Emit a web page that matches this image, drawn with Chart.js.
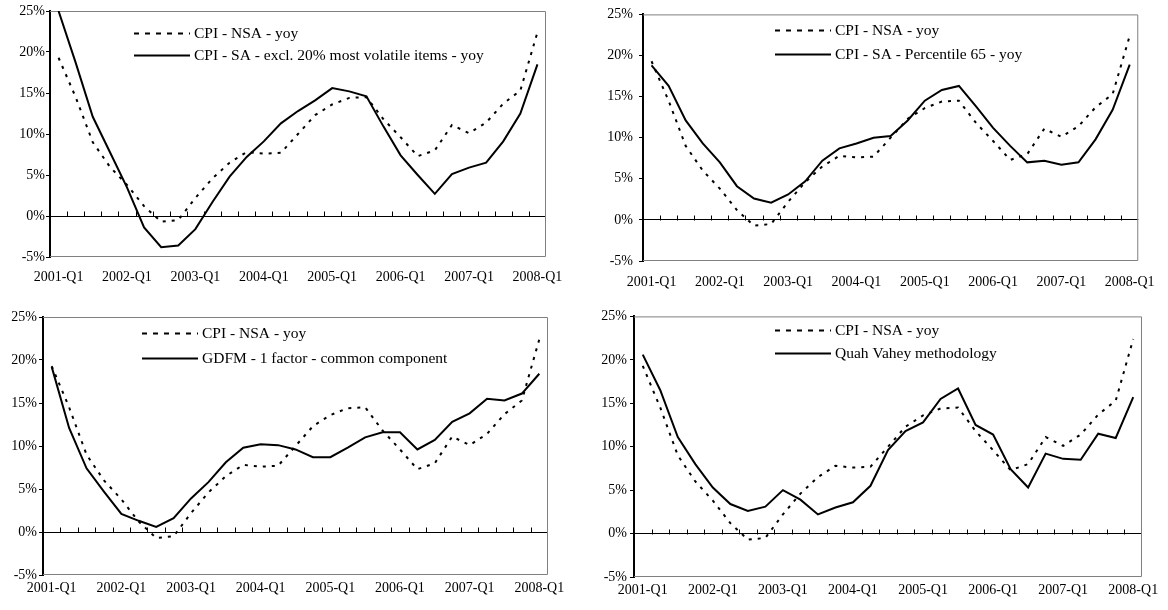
<!DOCTYPE html>
<html>
<head>
<meta charset="utf-8">
<script src="https://cdn.jsdelivr.net/npm/chart.js@4.4.1/dist/chart.umd.min.js"></script>
<style>
  html, body { margin: 0; padding: 0; background: #fff; }
  #wrap { position: relative; width: 1168px; height: 610px; overflow: hidden; }
  #wrap canvas { position: absolute; }
</style>
</head>
<body>
<div id="wrap">
  <canvas id="c1" width="584" height="305" style="left:0;top:0"></canvas>
  <canvas id="c2" width="584" height="305" style="left:584px;top:0"></canvas>
  <canvas id="c3" width="584" height="305" style="left:0;top:305px"></canvas>
  <canvas id="c4" width="584" height="305" style="left:584px;top:305px"></canvas>
</div>
<script>
// --- DATA (yoy inflation, %) ---
const quarters = [
    '2001-Q1', '2001-Q2', '2001-Q3', '2001-Q4',
    '2002-Q1', '2002-Q2', '2002-Q3', '2002-Q4',
    '2003-Q1', '2003-Q2', '2003-Q3', '2003-Q4',
    '2004-Q1', '2004-Q2', '2004-Q3', '2004-Q4',
    '2005-Q1', '2005-Q2', '2005-Q3', '2005-Q4',
    '2006-Q1', '2006-Q2', '2006-Q3', '2006-Q4',
    '2007-Q1', '2007-Q2', '2007-Q3', '2007-Q4',
    '2008-Q1'
];
const yTicks = [-5, 0, 5, 10, 15, 20, 25];

const cpiNsa = [19.3, 14.5, 9.0, 6.0, 3.8, 1.2, -0.7, -0.5, 2.2, 4.6, 6.5, 7.8, 7.6, 7.7,
    10.0, 12.3, 13.6, 14.4, 14.5, 11.8, 9.6, 7.3, 8.0, 11.1, 10.1, 11.4, 13.7, 15.3, 22.4];
const exclVolatile = [25.0, 18.7, 12.1, 7.8, 3.5, -1.4, -3.8, -3.6, -1.6, 1.7, 4.8, 7.2, 9.1, 11.3,
    12.8, 14.1, 15.6, 15.2, 14.6, 10.9, 7.4, 5.0, 2.7, 5.1, 5.9, 6.5, 9.1, 12.5, 18.5];
const percentile65 = [18.8, 16.3, 12.1, 9.3, 7.0, 4.1, 2.6, 2.1, 3.1, 4.7, 7.2, 8.7, 9.3, 10.0,
    10.2, 12.1, 14.5, 15.8, 16.3, 13.8, 11.2, 9.0, 7.0, 7.2, 6.7, 7.0, 9.8, 13.4, 18.9];
const gdfmCommon = [19.2, 12.1, 7.4, 4.7, 2.1, 1.3, 0.6, 1.6, 3.9, 5.8, 8.1, 9.8, 10.2, 10.1,
    9.6, 8.7, 8.7, 9.8, 11.0, 11.6, 11.6, 9.6, 10.7, 12.8, 13.8, 15.5, 15.3, 16.1, 18.4];
const quahVahey = [20.6, 16.5, 11.1, 8.0, 5.3, 3.4, 2.6, 3.1, 5.0, 3.9, 2.2, 3.0, 3.6, 5.5,
    9.6, 11.8, 12.8, 15.5, 16.7, 12.5, 11.4, 7.4, 5.3, 9.2, 8.6, 8.5, 11.5, 11.0, 15.7];

const FONT = "'Liberation Serif', 'Times New Roman', serif";

// frame of the plot area, plus the small marks on the 0% axis line
const frameAndAxis = {
    id: 'frameAndAxis',
    beforeDatasetsDraw(chart) {
        const { ctx, chartArea: a, scales: { x, y } } = chart;
        ctx.save();
        ctx.strokeStyle = '#808080';
        ctx.lineWidth = 1;
        ctx.beginPath();
        ctx.moveTo(a.left, a.top + 0.5);
        ctx.lineTo(a.right - 0.5, a.top + 0.5);
        ctx.lineTo(a.right - 0.5, a.bottom - 0.5);
        ctx.lineTo(a.left, a.bottom - 0.5);
        ctx.stroke();

        const y0 = Math.round(y.getPixelForValue(0)) + 0.5;
        ctx.strokeStyle = '#000';
        ctx.beginPath();
        for (let i = 1; i < quarters.length; i++) {
            const bx = Math.round((x.getPixelForValue(i - 1) + x.getPixelForValue(i)) / 2) + 0.5;
            ctx.moveTo(bx, y0);
            ctx.lineTo(bx, y0 - 5);
        }
        ctx.stroke();
        ctx.restore();
    }
};

// legend drawn inside the plot area, like the Excel original
const insideLegend = {
    id: 'insideLegend',
    afterDatasetsDraw(chart, args, opts) {
        const ctx = chart.ctx;
        ctx.save();
        ctx.font = '15.5px ' + FONT;
        ctx.fillStyle = '#000';
        ctx.textBaseline = 'middle';
        chart.data.datasets.forEach((ds, i) => {
            const ly = opts.y + i * opts.rowGap + 0.5;
            ctx.beginPath();
            ctx.setLineDash(ds.legendDash || []);
            ctx.lineWidth = ds.borderWidth;
            ctx.strokeStyle = ds.borderColor;
            ctx.moveTo(opts.x, ly);
            ctx.lineTo(opts.x + 56, ly);
            ctx.stroke();
            ctx.setLineDash([]);
            ctx.fillText(ds.label, opts.x + 60, ly);
        });
        ctx.restore();
    }
};

function makePanel(canvasId, label, values, box) {
    const canvas = document.getElementById(canvasId);
    const W = canvas.width, H = canvas.height;
    return new Chart(canvas, {
        type: 'line',
        data: {
            labels: quarters,
            datasets: [{
                label: 'CPI - NSA - yoy',
                data: cpiNsa,
                borderColor: '#000',
                borderWidth: 2,
                borderDash: [3, 6],
                legendDash: [5, 6],
                pointRadius: 0,
                tension: 0
            }, {
                label: label,
                data: values,
                borderColor: '#000',
                borderWidth: 2,
                pointRadius: 0,
                tension: 0
            }]
        },
        options: {
            responsive: false,
            animation: false,
            devicePixelRatio: 1,
            layout: { padding: { left: 0, top: box.top, right: W - box.right, bottom: 0 } },
            scales: {
                x: {
                    type: 'category',
                    offset: true,
                    grid: { display: false, drawTicks: false },
                    border: { display: false },
                    afterFit: s => { s.height = H - box.bottom; },
                    ticks: {
                        autoSkip: false,
                        maxRotation: 0,
                        padding: box.xPad,
                        color: '#000',
                        font: { family: FONT, size: 14 },
                        callback: (v, i) => (i % 4 === 0 ? quarters[i] : '')
                    }
                },
                y: {
                    min: -5,
                    max: 25,
                    afterBuildTicks: s => { s.ticks = yTicks.map(v => ({ value: v })); },
                    afterFit: s => { s.width = box.left; },
                    grid: {
                        color: c => (c.tick && c.tick.value === 0 ? '#000' : 'rgba(0,0,0,0)'),
                        tickColor: '#000',
                        tickLength: 4,
                        lineWidth: 1
                    },
                    border: { display: true, color: '#000', width: 2 },
                    ticks: {
                        padding: box.yPad,
                        color: '#000',
                        font: { family: FONT, size: 14 },
                        callback: v => v + '%'
                    }
                }
            },
            plugins: {
                legend: { display: false },
                tooltip: { enabled: false },
                insideLegend: { x: box.legX, y: box.legY, rowGap: box.legGap }
            }
        },
        plugins: [frameAndAxis, insideLegend]
    });
}

makePanel('c1', 'CPI - SA - excl. 20% most volatile items - yoy', exclVolatile,
    { left: 50, top: 11, right: 546, bottom: 257, xPad: 12, yPad: 1, legX: 134, legY: 33, legGap: 22 });
makePanel('c2', 'CPI - SA - Percentile 65 - yoy', percentile65,
    { left: 59, top: 10, right: 561, bottom: 261, xPad: 13, yPad: 6, legX: 191, legY: 30, legGap: 24 });
makePanel('c3', 'GDFM - 1 factor - common component', gdfmCommon,
    { left: 43, top: 12, right: 548, bottom: 270, xPad: 5, yPad: 2, legX: 142, legY: 28, legGap: 25 });
makePanel('c4', 'Quah Vahey methodology', quahVahey,
    { left: 50, top: 9, right: 558, bottom: 272, xPad: 5, yPad: 3, legX: 191, legY: 25, legGap: 23 });
</script>
</body>
</html>
